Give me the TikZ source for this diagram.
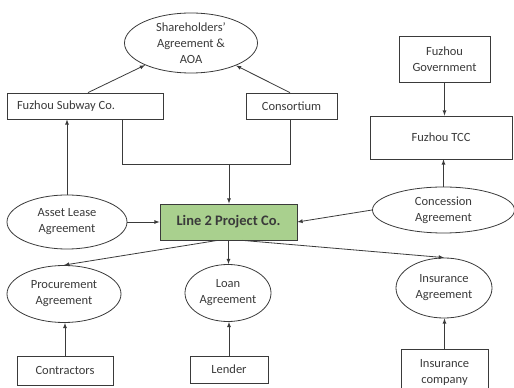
\documentclass[tikz,border=0pt]{standalone}
\usepackage{fontspec}
\setmainfont{Carlito}
\usepackage{tikz}
\usetikzlibrary{arrows,shapes.geometric}

\definecolor{lpcgreen}{HTML}{A9D08E}
\definecolor{ink}{HTML}{3A3A3A}

\tikzset{
  box/.style={draw=ink, line width=0.8pt, rectangle, inner sep=0pt, align=center, text=ink},
  oval/.style={draw=ink, line width=0.8pt, ellipse, inner sep=0pt, align=center, text=ink},
  arr/.style={draw=ink, line width=0.8pt, -latex},
  link/.style={draw=ink, line width=0.8pt}
}

\begin{document}
\begin{tikzpicture}[x=1pt, y=1pt, font=\fontsize{12.5}{16}\selectfont]
  \useasboundingbox (0,0) rectangle (514,388);

  % agreements at the top
  \node[oval, minimum width=133, minimum height=60] (sha) at (191,345)
    {Shareholders'\\Agreement \&\\AOA};
  \node[box, minimum width=156, minimum height=26, text width=136, align=flush left] (sub) at (85,282)
    {Fuzhou Subway Co.};
  \node[box, minimum width=91, minimum height=26] (con) at (291.5,282) {Consortium};

  % government side
  \node[box, minimum width=91, minimum height=46] (gov) at (444.5,329) {Fuzhou\\Government};
  \node[box, minimum width=142, minimum height=43] (tcc) at (441,250.5) {Fuzhou TCC};

  % middle row
  \node[oval, minimum width=120, minimum height=54] (asl) at (67,166) {Asset Lease\\Agreement};
  \node[box, fill=lpcgreen, minimum width=137, minimum height=36, font=\fontsize{14.5}{17}\selectfont\bfseries] (lpc)
    at (228.5,166) {Line 2 Project Co.};
  \node[oval, minimum width=142, minimum height=46] (cca) at (443.5,178) {Concession\\Agreement};

  % lower agreements
  \node[oval, minimum width=114, minimum height=57] (pra) at (64,94) {Procurement\\Agreement};
  \node[oval, minimum width=86, minimum height=57] (lna) at (228,95) {Loan\\Agreement};
  \node[oval, minimum width=96, minimum height=60] (ina) at (444,100) {Insurance\\Agreement};

  % parties at the bottom
  \node[box, minimum width=96, minimum height=29] (ctr) at (65,17.5) {Contractors};
  \node[box, minimum width=78, minimum height=27] (lnd) at (229,18.5) {Lender};
  \node[box, minimum width=87, minimum height=44, text depth=0pt] (inc) at (444.5,17) {Insurance\\company};

  % junction below the shareholders
  \coordinate (jl) at (122,224);
  \coordinate (jr) at (290,224);
  \coordinate (jm) at (229,224);
  \draw[link] (sub.south -| jl) -- (jl) -- (jr) -- (con.south -| jr);
  \draw[arr] (jm) -- (jm |- lpc.north);

  \draw[arr] ([xshift=3pt]sub.north) -- (sha);
  \draw[arr] ([xshift=-1.5pt]con.north) -- (sha);
  \draw[arr] (asl.north) -- (asl.north |- sub.south);
  \draw[arr] (gov.south) -- (gov.south |- tcc.north);
  \draw[arr] (cca.north) -- (cca.north |- tcc.south);

  \draw[arr] (asl.east) -- (lpc.west);
  \draw[arr] (cca.west) -- (lpc.east);

  \draw[arr] ([xshift=-11pt]lpc.south) -- (pra.north);
  \draw[arr] (lpc.south) -- (lpc.south |- lna.north);
  \draw[arr] ([xshift=14pt]lpc.south) -- (ina.north);

  \draw[arr] (ctr.north) -- (ctr.north |- pra.south);
  \draw[arr] (lnd.north) -- (lnd.north |- lna.south);
  \draw[arr] (inc.north) -- (inc.north |- ina.south);
\end{tikzpicture}
\end{document}
